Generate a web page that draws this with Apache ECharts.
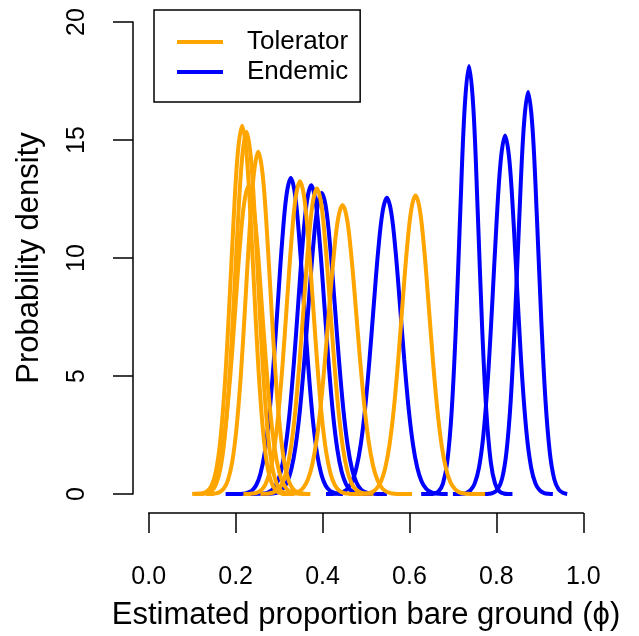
<!DOCTYPE html>
<html>
<head>
<meta charset="utf-8">
<script src="https://cdn.jsdelivr.net/npm/echarts@6/dist/echarts.min.js"></script>
<style>
html,body{margin:0;padding:0;background:#fff;}
#chart{width:639px;height:636px;}
</style>
</head>
<body>
<div id="chart"></div>
<script>
// ---- data (density values on a 0.01 grid from each start) ----
const groups = ['Tolerator', 'Endemic'];
const groupColors = ['#FFA500', '#0000FF'];
const xTickLabels = ['0.0', '0.2', '0.4', '0.6', '0.8', '1.0'];
const yTickLabels = ['0', '5', '10', '15', '20'];
const gridStep = 0.01;

// Tolerator curves (orange)
const tolStart = [0.105, 0.115, 0.100, 0.132, 0.218, 0.257, 0.306, 0.464];
const tol1 = [0, 0.01, 0.03, 0.12, 0.37, 0.99, 2.31, 4.59, 7.84, 11.49, 14.45, 15.6, 14.45, 11.49, 7.84, 4.59, 2.31, 0.99, 0.37, 0.12, 0.03, 0.01, 0];
const tol2 = [0, 0.01, 0.04, 0.13, 0.41, 1.07, 2.41, 4.70, 7.89, 11.42, 14.26, 15.35, 14.26, 11.42, 7.89, 4.70, 2.41, 1.07, 0.41, 0.13, 0.04, 0.01, 0];
const tol3 = [0, 0.01, 0.02, 0.06, 0.17, 0.43, 0.95, 1.90, 3.43, 5.54, 8.06, 10.54, 12.37, 13.05, 12.37, 10.54, 8.06, 5.54, 3.43, 1.90, 0.95, 0.43, 0.17, 0.06, 0.02, 0.01, 0];
const tol4 = [0, 0, 0.02, 0.07, 0.21, 0.57, 1.34, 2.78, 5.04, 8.00, 11.13, 13.57, 14.5, 13.57, 11.13, 8.00, 5.04, 2.78, 1.34, 0.57, 0.21, 0.07, 0.02, 0, 0];
const tol5 = [0, 0, 0.02, 0.05, 0.15, 0.39, 0.89, 1.82, 3.34, 5.48, 8.07, 10.63, 12.54, 13.25, 12.54, 10.63, 8.07, 5.48, 3.34, 1.82, 0.89, 0.39, 0.15, 0.05, 0.02, 0, 0];
const tol6 = [0, 0.01, 0.02, 0.07, 0.18, 0.44, 0.98, 1.94, 3.47, 5.57, 8.06, 10.49, 12.29, 12.95, 12.29, 10.49, 8.06, 5.57, 3.47, 1.94, 0.98, 0.44, 0.18, 0.07, 0.02, 0.01, 0];
const tol7 = [0, 0, 0.01, 0.04, 0.11, 0.27, 0.60, 1.22, 2.24, 3.77, 5.76, 8.01, 10.14, 11.69, 12.25, 11.69, 10.14, 8.01, 5.76, 3.77, 2.24, 1.22, 0.60, 0.27, 0.11, 0.04, 0.01, 0, 0, 0, 0];
const tol8 = [0, 0, 0, 0.01, 0.03, 0.08, 0.22, 0.51, 1.08, 2.07, 3.60, 5.66, 8.05, 10.35, 12.03, 12.65, 12.03, 10.35, 8.05, 5.66, 3.60, 2.07, 1.08, 0.51, 0.22, 0.08, 0.03, 0.01, 0, 0, 0, 0];

// Endemic curves (blue)
const endStart = [0.177, 0.234, 0.258, 0.408, 0.627, 0.700, 0.753];
const end1 = [0, 0, 0, 0, 0.01, 0.05, 0.14, 0.36, 0.85, 1.76, 3.27, 5.44, 8.06, 10.69, 12.66, 13.39, 12.66, 10.69, 8.06, 5.44, 3.27, 1.76, 0.85, 0.36, 0.14, 0.05, 0.01, 0];
const end2 = [0, 0, 0.01, 0.02, 0.06, 0.17, 0.42, 0.94, 1.89, 3.41, 5.54, 8.06, 10.55, 12.40, 13.08, 12.40, 10.55, 8.06, 5.54, 3.41, 1.89, 0.94, 0.42, 0.17, 0.06, 0.02, 0.01, 0, 0];
const end3 = [0, 0, 0.01, 0.03, 0.08, 0.20, 0.49, 1.04, 2.03, 3.56, 5.63, 8.05, 10.39, 12.12, 12.75, 12.12, 10.39, 8.05, 5.63, 3.56, 2.03, 1.04, 0.49, 0.20, 0.08, 0.03, 0.01, 0, 0, 0];
const end4 = [0, 0, 0.01, 0.03, 0.09, 0.23, 0.53, 1.11, 2.11, 3.64, 5.69, 8.04, 10.30, 11.94, 12.55, 11.94, 10.30, 8.04, 5.69, 3.64, 2.11, 1.11, 0.53, 0.23, 0.09, 0.03, 0.01, 0, 0];
const end5 = [0, 0, 0, 0.02, 0.11, 0.44, 1.37, 3.47, 7.15, 12.00, 16.36, 18.14, 16.36, 12.00, 7.15, 3.47, 1.37, 0.44, 0.11, 0.02, 0, 0];
const end6 = [0, 0, 0.01, 0.04, 0.15, 0.44, 1.12, 2.48, 4.76, 7.91, 11.37, 14.13, 15.19, 14.13, 11.37, 7.91, 4.76, 2.48, 1.12, 0.44, 0.15, 0.04, 0.01, 0];
const end7 = [0, 0, 0, 0.01, 0.05, 0.20, 0.64, 1.75, 3.96, 7.50, 11.83, 15.55, 17.03, 15.55, 11.83, 7.50, 3.96, 1.75, 0.64, 0.20, 0.05, 0];

const tolCurves = [tol1, tol2, tol3, tol4, tol5, tol6, tol7, tol8];
const endCurves = [end1, end2, end3, end4, end5, end6, end7];

// ---- build chart ----
const FONT = '"Liberation Sans", Arial, Helvetica, sans-serif';

function toPairs(start, ys) {
  return ys.map((y, i) => [+(start + i * gridStep).toFixed(3), y]);
}

const series = [];
endCurves.forEach((ys, i) => {
  series.push({
    name: groups[1], type: 'line', data: toPairs(endStart[i], ys),
    showSymbol: false, smooth: 0.35, lineStyle: { color: groupColors[1], width: 4 },
    itemStyle: { color: groupColors[1] }, silent: true
  });
});
tolCurves.forEach((ys, i) => {
  series.push({
    name: groups[0], type: 'line', data: toPairs(tolStart[i], ys),
    showSymbol: false, smooth: 0.35, lineStyle: { color: groupColors[0], width: 4 },
    itemStyle: { color: groupColors[0] }, silent: true
  });
});

const chart = echarts.init(document.getElementById('chart'), null, { renderer: 'canvas' });
chart.setOption({
  animation: false,
  backgroundColor: '#fff',
  grid: { left: 148.7, right: 55.7, top: 22, bottom: 141, containLabel: false },
  legend: {
    data: groups, orient: 'vertical', left: 154, top: 10,
    icon: 'rect', itemWidth: 46, itemHeight: 4, itemGap: 0,
    selectedMode: false,
    borderColor: '#000', borderWidth: 1.5, borderRadius: 0,
    padding: [17, 12, 15, 23],
    textStyle: { fontFamily: FONT, fontSize: 26, color: '#000', lineHeight: 30, padding: [0, 0, 0, 19] }
  },
  xAxis: {
    type: 'value', min: 0, max: 1, interval: 0.2,
    offset: 19,
    axisLine: { show: true, onZero: false, lineStyle: { color: '#000', width: 1.5 } },
    axisTick: { show: true, length: 20, inside: false, lineStyle: { color: '#000', width: 1.5 } },
    axisLabel: { margin: 52, fontFamily: FONT, fontSize: 25, color: '#000',
      formatter: (v) => xTickLabels[Math.round(v / 0.2)] },
    splitLine: { show: false },
    name: 'Estimated proportion bare ground (ϕ)', nameLocation: 'middle', nameGap: 87,
    nameTextStyle: { fontFamily: FONT, fontSize: 31, color: '#000' }
  },
  yAxis: {
    type: 'value', min: 0, max: 20, interval: 5,
    offset: 15.7,
    axisLine: { show: true, onZero: false, lineStyle: { color: '#000', width: 1.5 } },
    axisTick: { show: true, length: 20, inside: false, lineStyle: { color: '#000', width: 1.5 } },
    axisLabel: { margin: 43, rotate: 90, fontFamily: FONT, fontSize: 25, color: '#000',
      formatter: (v) => yTickLabels[Math.round(v / 5)] },
    splitLine: { show: false },
    name: 'Probability density', nameLocation: 'middle', nameGap: 88, nameRotate: 90,
    nameTextStyle: { fontFamily: FONT, fontSize: 31, color: '#000' }
  },
  series: series
});
</script>
</body>
</html>
